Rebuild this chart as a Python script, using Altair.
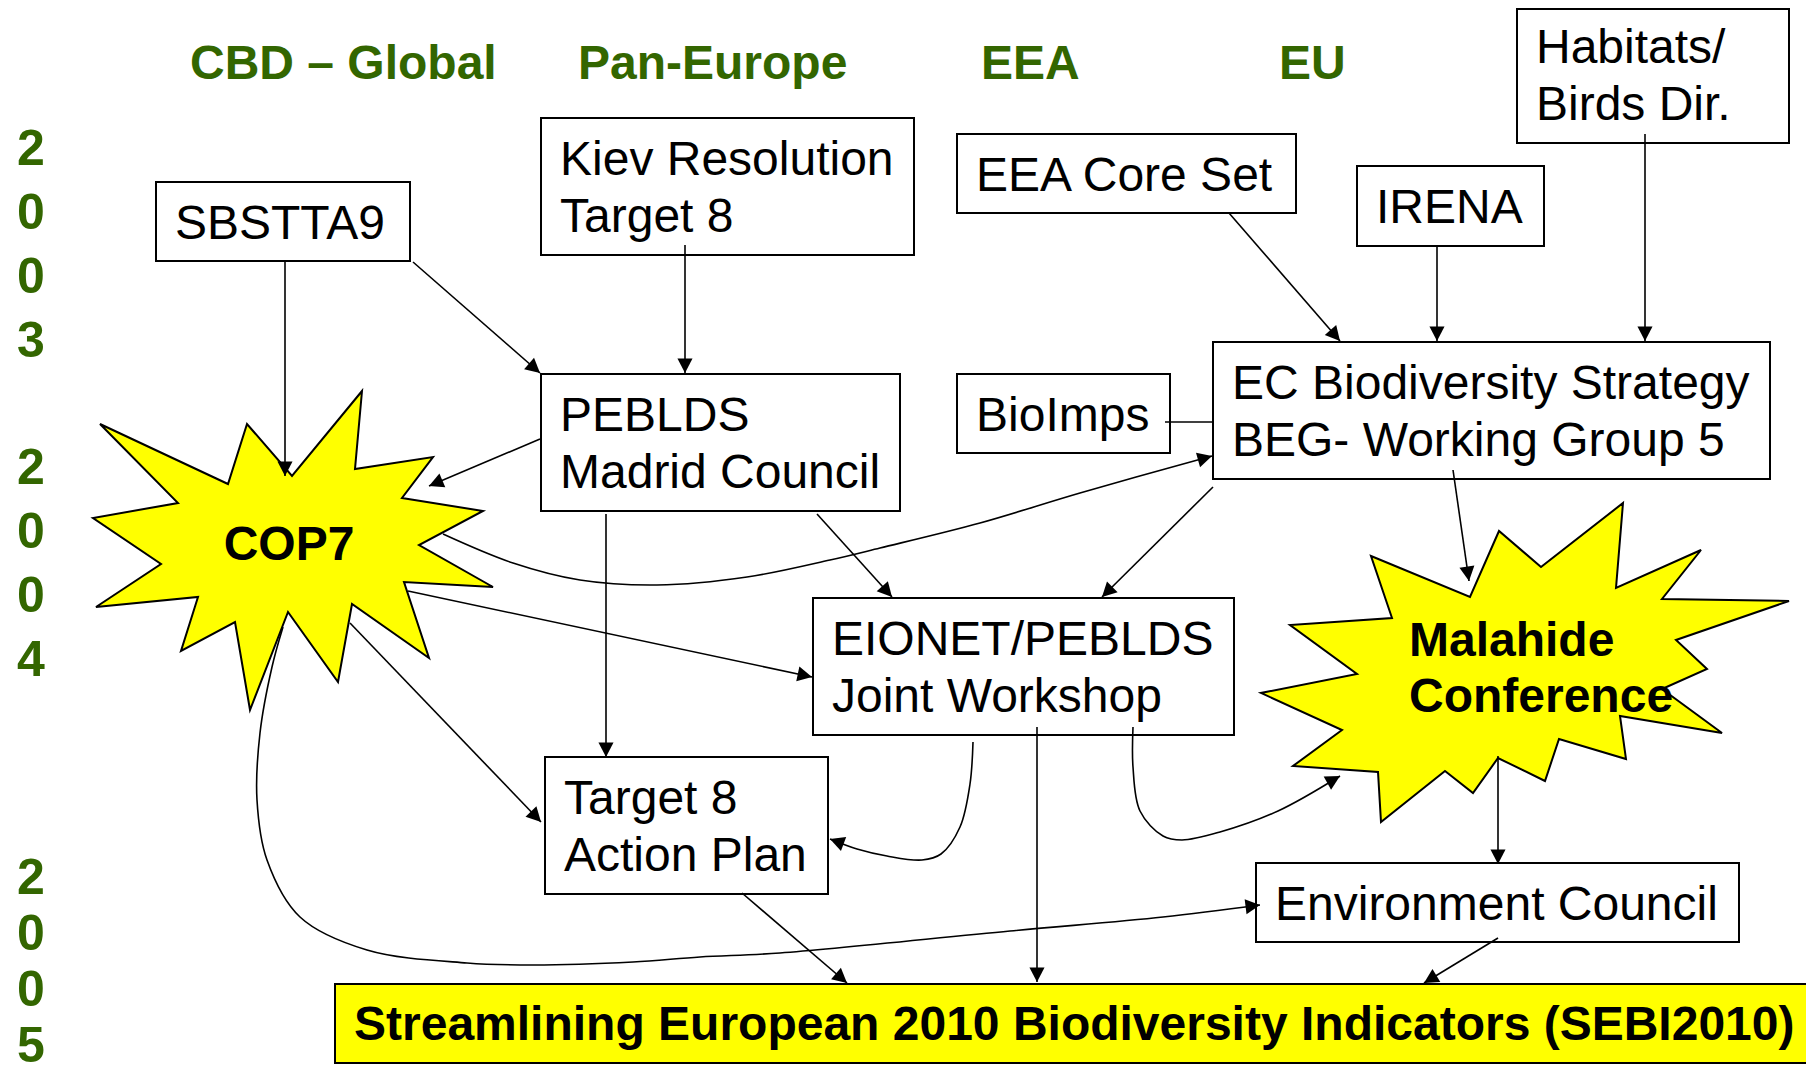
import math
import altair as alt
import pandas as pd

# ---------------- data (page pixel coordinates) -------------
header_text = ["CBD – Global", "Pan-Europe", "EEA", "EU"]
header_x = [190, 578, 981, 1279]
header_y = [79, 79, 79, 79]

year_chars = list("200320042005")
year_y = [165, 229, 293, 357, 484, 548, 612, 676, 894, 950, 1006, 1062]
year_x = 31

box_lines = [
    ["SBSTTA9"],
    ["Kiev Resolution", "Target 8"],
    ["EEA Core Set"],
    ["IRENA"],
    ["Habitats/", "Birds Dir."],
    ["PEBLDS", "Madrid Council"],
    ["BioImps"],
    ["EC Biodiversity Strategy", "BEG- Working Group 5"],
    ["EIONET/PEBLDS", "Joint Workshop"],
    ["Target 8", "Action Plan"],
    ["Environment Council"],
]
box_x0 = [156, 541, 957, 1357, 1517, 541, 957, 1213, 813, 545, 1256]
box_x1 = [410, 914, 1296, 1544, 1789, 900, 1170, 1770, 1234, 828, 1739]
box_y0 = [182, 118, 134, 166, 9, 374, 374, 342, 598, 757, 863]
box_y1 = [261, 255, 213, 246, 143, 511, 453, 479, 735, 894, 942]
box_text_top = [182, 118, 134, 166, 6, 374, 374, 342, 598, 757, 863]

sebi_text = "Streamlining European 2010 Biodiversity Indicators (SEBI2010)"
sebi_box = [335, 1830, 984, 1063]

cop7_x = [100, 228, 247, 292, 362, 355, 433, 402, 483, 419, 493, 404,
          429, 352, 338, 288, 250, 235, 181, 198, 96, 161, 93, 178]
cop7_y = [424, 484, 424, 476, 391, 469, 457, 498, 511, 545, 587, 582,
          658, 604, 682, 612, 710, 622, 651, 597, 607, 564, 518, 503]
mal_x = [1371, 1470, 1499, 1541, 1623, 1616, 1701, 1662, 1789, 1676, 1707, 1662, 1722, 1620,
         1626, 1559, 1545, 1498, 1473, 1445, 1381, 1378, 1293, 1342, 1261, 1357, 1290, 1392]
mal_y = [556, 597, 531, 567, 503, 588, 550, 599, 601, 640, 669, 689, 733, 716,
         759, 739, 781, 758, 793, 771, 822, 772, 766, 730, 693, 674, 625, 618]

star_label = ["COP7", "Malahide", "Conference"]
star_label_x = [289, 1409, 1409]
star_label_y = [560, 656, 712]
star_label_align = ["center", "left", "left"]

conn_x = [
    [285, 285], [413, 540], [685, 685], [540, 429], [606, 606], [817, 892],
    [443, 513, 580, 657, 747, 830, 880, 980, 1080, 1212],
    [408, 812], [350, 541],
    [283, 272, 260, 257, 267, 300, 367, 467, 533, 633, 700, 780, 1010, 1163, 1260],
    [1213, 1102], [1165, 1212], [1229, 1340], [1437, 1437], [1645, 1645], [1453, 1469],
    [973, 970, 960, 941, 922, 887, 857, 830],
    [1037, 1037],
    [1133, 1133, 1140, 1163, 1182, 1220, 1278, 1340],
    [1498, 1498], [1498, 1424], [742, 847],
]
conn_y = [
    [262, 476], [262, 373], [245, 373], [439, 486], [514, 757], [514, 597],
    [534, 563, 580, 585, 577, 560, 548, 523, 493, 456],
    [591, 677], [623, 822],
    [627, 667, 733, 800, 860, 917, 950, 963, 965, 962, 957, 953, 931, 917, 905],
    [487, 597], [422, 422], [213, 341], [246, 341], [134, 341], [470, 581],
    [742, 784, 827, 854, 860, 856, 849, 839],
    [727, 982],
    [727, 767, 811, 836, 840, 832, 811, 776],
    [756, 864], [938, 983], [893, 983],
]
conn_arrow = [True] * len(conn_x)
conn_arrow[11] = False  # BioImps -> EC: plain line

GREEN = "#336600"
YELLOW = "#FFFF00"
FONT = "Liberation Sans"

# ---------------- tables -------------
boxes = pd.DataFrame({"x0": box_x0, "x1": box_x1, "y0": box_y0, "y1": box_y1})
box_text = pd.DataFrame([
    {"t": line, "x": box_x0[i] + 19, "y": box_text_top[i] + 57 + 56.5 * j}
    for i, lines in enumerate(box_lines) for j, line in enumerate(lines)
])
headers = pd.DataFrame({"t": header_text, "x": header_x, "y": header_y})
years = pd.DataFrame({"t": year_chars, "x": [year_x] * len(year_chars), "y": year_y})
sebi_df = pd.DataFrame({"x0": [sebi_box[0]], "x1": [sebi_box[1]], "y0": [sebi_box[2]], "y1": [sebi_box[3]]})
sebi_txt = pd.DataFrame({"t": [sebi_text], "x": [sebi_box[0] + 19], "y": [sebi_box[2] + 56]})

stars = pd.DataFrame(
    [{"s": "cop7", "i": k, "x": x, "y": y} for k, (x, y) in enumerate(zip(cop7_x, cop7_y))]
    + [{"s": "mal", "i": k, "x": x, "y": y} for k, (x, y) in enumerate(zip(mal_x, mal_y))]
)
star_txt = pd.DataFrame({"t": star_label, "x": star_label_x, "y": star_label_y, "a": star_label_align})

conns = pd.DataFrame([
    {"c": c, "i": k, "x": x, "y": y}
    for c, (xs, ys) in enumerate(zip(conn_x, conn_y)) for k, (x, y) in enumerate(zip(xs, ys))
])
heads = []
for c, (xs, ys) in enumerate(zip(conn_x, conn_y)):
    if not conn_arrow[c]:
        continue
    dx, dy = xs[-1] - xs[-2], ys[-1] - ys[-2]
    ang = math.degrees(math.atan2(dx, -dy)) % 360
    heads.append({"x": xs[-1], "y": ys[-1], "ang": ang})
heads = pd.DataFrame(heads)

# ---------------- chart -------------
xs = alt.Scale(domain=[8, 1806], nice=False, zero=False)
ys = alt.Scale(domain=[8, 1073], nice=False, zero=False, reverse=True)
X = alt.X("x:Q", scale=xs, axis=None)
Y = alt.Y("y:Q", scale=ys, axis=None)

box_layer = alt.Chart(boxes).mark_rect(fill="white", stroke="black", strokeWidth=2).encode(
    x=alt.X("x0:Q", scale=xs, axis=None), x2="x1:Q",
    y=alt.Y("y0:Q", scale=ys, axis=None), y2="y1:Q")
sebi_layer = alt.Chart(sebi_df).mark_rect(fill=YELLOW, stroke="black", strokeWidth=2, clip=True).encode(
    x=alt.X("x0:Q", scale=xs, axis=None), x2="x1:Q",
    y=alt.Y("y0:Q", scale=ys, axis=None), y2="y1:Q")
star_layer = alt.Chart(stars).mark_line(
    interpolate="linear-closed", fill=YELLOW, stroke="black", strokeWidth=2, strokeJoin="miter"
).encode(x=X, y=Y, detail="s:N", order="i:Q")
conn_layer = alt.Chart(conns).mark_line(
    interpolate="catmull-rom", stroke="black", strokeWidth=1.6
).encode(x=X, y=Y, detail="c:N", order="i:Q")
head_layer = alt.Chart(heads).mark_point(
    shape="M0,0L-0.52,1L0.52,1Z", size=841, filled=True, color="black", opacity=1, strokeWidth=0
).encode(x=X, y=Y, angle=alt.Angle("ang:Q", scale=None))

txt_box = alt.Chart(box_text).mark_text(
    align="left", baseline="alphabetic", font=FONT, fontSize=48, color="black"
).encode(x=X, y=Y, text="t:N")
txt_sebi = alt.Chart(sebi_txt).mark_text(
    align="left", baseline="alphabetic", font=FONT, fontSize=48, fontWeight="bold", color="black"
).encode(x=X, y=Y, text="t:N")
txt_head = alt.Chart(headers).mark_text(
    align="left", baseline="alphabetic", font=FONT, fontSize=48, fontWeight="bold", color=GREEN
).encode(x=X, y=Y, text="t:N")
txt_year = alt.Chart(years).mark_text(
    align="center", baseline="alphabetic", font=FONT, fontSize=50, fontWeight="bold", color=GREEN
).encode(x=X, y=Y, text="t:N")
txt_star_c = alt.Chart(star_txt[star_txt.a == "center"]).mark_text(
    align="center", baseline="alphabetic", font=FONT, fontSize=48, fontWeight="bold", color="black"
).encode(x=X, y=Y, text="t:N")
txt_star_l = alt.Chart(star_txt[star_txt.a == "left"]).mark_text(
    align="left", baseline="alphabetic", font=FONT, fontSize=48, fontWeight="bold", color="black"
).encode(x=X, y=Y, text="t:N")

chart = alt.layer(
    box_layer, sebi_layer, star_layer, conn_layer, head_layer,
    txt_box, txt_sebi, txt_head, txt_year, txt_star_c, txt_star_l
).properties(
    width=1798, height=1065, padding=0, autosize=alt.AutoSizeParams(type="none"),
    background="white"
).configure(view=alt.ViewConfig(stroke=None))

chart.save("out.html", embed_options={"renderer": "svg", "actions": False})
